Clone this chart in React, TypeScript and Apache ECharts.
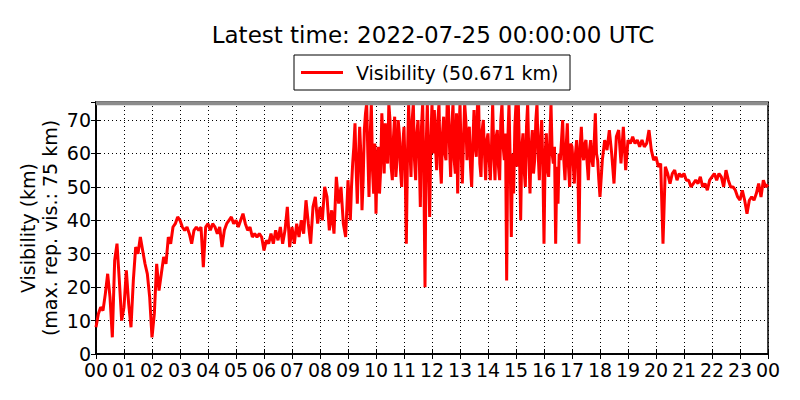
import React, { useEffect, useRef } from "react";
import * as echarts from "echarts";

// Visibility samples (km).
// 00:00–08:55 every 5 min
const visH00_03 = [
  8, 12, 14, 13, 18, 24, 17, 5, 28, 33, 22, 10,
  14, 25, 15, 8, 22, 32, 30, 35, 31, 27, 24, 17,
  5, 12, 27, 19, 24, 29, 27, 35, 33, 38, 39, 41,
  40, 38, 37, 38, 36, 33, 37, 38, 37, 38, 26, 38,
];
const visH04_08 = [
  39, 37, 39, 38, 36, 38, 32, 37, 39, 40, 41, 39,
  40, 38, 40, 42, 39, 37, 38, 35, 36, 35, 36, 35,
  31, 34, 33, 36, 33, 37, 34, 38, 33, 37, 44, 32,
  38, 33, 39, 35, 40, 36, 46, 39, 33, 44, 47, 39,
  44, 40, 50, 47, 37, 43, 36, 53, 45, 50, 39, 35,
];
// 09:00–17:57.5 every 2.5 min (the noisy part)
const visH09_12 = [
  52, 46, 40, 50, 57, 62, 69, 55, 45, 58, 68, 60, 43, 52, 67, 72, 75, 60, 47, 65, 75, 55, 48, 63,
  42, 58, 62, 48, 55, 72, 64, 54, 69, 60, 57, 75, 70, 56, 52, 65, 71, 53, 58, 70, 66, 55, 50, 63,
  68, 55, 33, 60, 75, 62, 53, 70, 75, 58, 52, 66, 70, 60, 44, 68, 75, 55, 20, 62, 75, 57, 41, 64,
  75, 60, 73, 62, 55, 70, 75, 57, 51, 66, 71, 60, 58, 75, 75, 62, 53, 68, 75, 58, 54, 72, 48, 65,
];
const visH13_17 = [
  75, 60, 51, 64, 75, 70, 58, 66, 68, 56, 50, 63, 73, 62, 59, 75, 75, 57, 53, 67, 70, 60, 52, 64,
  66, 58, 52, 62, 75, 60, 52, 65, 67, 56, 52, 70, 75, 62, 58, 66, 22, 64, 75, 58, 35, 60, 48, 68,
  75, 56, 75, 60, 40, 62, 66, 55, 50, 68, 75, 60, 48, 62, 67, 54, 58, 70, 75, 60, 52, 64, 70, 57,
  33, 60, 66, 55, 53, 64, 75, 60, 57, 62, 33, 56, 45, 60, 58, 64, 70, 58, 52, 62, 69, 56, 50, 63,
  62, 57, 51, 60, 64, 58, 33, 62, 68, 60, 58, 63, 64, 57, 52, 61, 64, 58, 56, 63, 72, 60, 58, 52,
];
// 18:00–23:55 every 5 min
const visH18_23 = [
  47, 58, 64, 61, 67, 60, 51, 65, 67, 57, 68, 55,
  64, 63, 65, 63, 64, 62, 64, 62, 63, 67, 61, 58,
  59, 56, 57, 33, 56, 54, 51, 54, 55, 52, 54, 53,
  54, 52, 52, 50, 51, 52, 51, 53, 50, 51, 49, 52,
  53, 54, 52, 54, 53, 50, 55, 52, 50, 50, 49, 47,
  46, 49, 46, 42, 46, 47, 46, 48, 51, 47, 52, 50,
];
const lastValue = 50.671; // at 24:00
const maxRepVis = 75;

const hourTickLabels = [
  "00", "01", "02", "03", "04", "05", "06", "07", "08", "09", "10", "11",
  "12", "13", "14", "15", "16", "17", "18", "19", "20", "21", "22", "23", "00",
];
const titleText = "Latest time: 2022-07-25 00:00:00 UTC";

const FONT = "DejaVu Sans";

function segment(startHour: number, stepMin: number, values: number[]): [number, number][] {
  return values.map((v, i) => [startHour + (i * stepMin) / 60, v]);
}

function buildSeries(): [number, number][] {
  return [
    ...segment(0, 5, visH00_03),
    ...segment(4, 5, visH04_08),
    ...segment(9, 2.5, visH09_12),
    ...segment(13, 2.5, visH13_17),
    ...segment(18, 5, visH18_23),
    [24, lastValue],
  ];
}

export default function App() {
  const ref = useRef<HTMLDivElement>(null);

  useEffect(() => {
    if (!ref.current) return;
    const chart = echarts.init(ref.current, undefined, { renderer: "svg" });
    const gridLeft = 96, gridTop = 102, gridW = 672, gridH = 252;
    const dotted = { color: "#000", type: [1, 3] as any, width: 1 };
    const tickStyle = { inside: true, length: 5, lineStyle: { color: "#000", width: 1 } };
    const axisLine = { show: true, lineStyle: { color: "#000", width: 1.5 } };
    const fs = 19;

    chart.setOption({
      animation: false,
      backgroundColor: "#fff",
      grid: {
        left: gridLeft, top: gridTop, width: gridW, height: gridH,
        show: true, borderColor: "#000", borderWidth: 1.5,
      },
      xAxis: [
        {
          type: "value", min: 0, max: 24, interval: 1,
          axisLine, axisTick: tickStyle,
          axisLabel: {
            formatter: (v: number) => hourTickLabels[Math.round(v)] ?? "",
            fontSize: fs, lineHeight: 15, color: "#000", fontFamily: FONT, margin: 8,
          },
          splitLine: { show: true, lineStyle: dotted },
        },
        {
          type: "value", position: "top", min: 0, max: 24, interval: 1,
          axisLine, axisTick: tickStyle,
          axisLabel: { show: false }, splitLine: { show: false },
        },
      ],
      yAxis: [
        {
          type: "value", min: 0, max: 75.4, interval: 10,
          axisLine, axisTick: tickStyle,
          axisLabel: {
            formatter: (v: number) => (Math.abs(v % 10) < 1e-6 ? String(v) : ""),
            fontSize: fs, lineHeight: 15, color: "#000", fontFamily: FONT, margin: 5,
          },
          splitLine: { show: true, lineStyle: dotted },
        },
        {
          type: "value", position: "right", min: 0, max: 75.4, interval: 10,
          axisLine, axisTick: tickStyle,
          axisLabel: { show: false }, splitLine: { show: false },
        },
      ],
      series: [
        {
          type: "line",
          name: "Visibility",
          data: buildSeries(),
          symbol: "none",
          showSymbol: false,
          lineStyle: { color: "#ff0000", width: 3 },
          z: 2,
        },
        {
          type: "line",
          name: "max",
          data: [[0, maxRepVis], [24, maxRepVis]],
          symbol: "none",
          lineStyle: { color: "#8c8c8c", width: 4 },
          z: 3,
          silent: true,
        },
      ],
      graphic: [
        {
          type: "text", x: 433, y: 35,
          style: {
            text: titleText, align: "center", verticalAlign: "middle",
            fontSize: 23, fontFamily: FONT, fill: "#000",
          },
        },
        {
          type: "rect", shape: { x: 294, y: 55, width: 276, height: 35 },
          style: { fill: "#fff", stroke: "#000", lineWidth: 1 },
        },
        {
          type: "line", shape: { x1: 301, y1: 72.5, x2: 343, y2: 72.5 },
          style: { stroke: "#ff0000", lineWidth: 3 },
        },
        {
          type: "text", x: 356, y: 72.5,
          style: {
            text: `Visibility (${lastValue.toFixed(3)} km)`,
            verticalAlign: "middle", fontSize: fs, fontFamily: FONT, fill: "#000",
          },
        },
        {
          type: "text", x: 28, y: 228, rotation: Math.PI / 2,
          style: {
            text: "Visibility (km)", align: "center", verticalAlign: "middle",
            fontSize: fs, fontFamily: FONT, fill: "#000",
          },
        },
        {
          type: "text", x: 50, y: 228, rotation: Math.PI / 2,
          style: {
            text: "(max. rep. vis.: 75 km)", align: "center", verticalAlign: "middle",
            fontSize: fs, fontFamily: FONT, fill: "#000",
          },
        },
      ],
    });
    return () => chart.dispose();
  }, []);

  return (
    <div
      ref={ref}
      style={{ position: "fixed", left: 0, top: 0, width: 800, height: 400, background: "#fff" }}
    />
  );
}
